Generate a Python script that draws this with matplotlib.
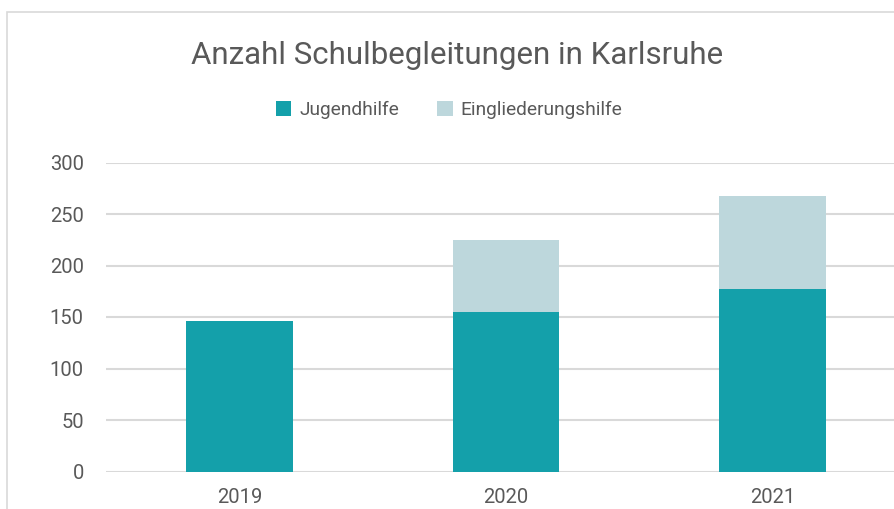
import matplotlib.pyplot as plt
from matplotlib.patches import Rectangle

years = ['2019', '2020', '2021']
jugendhilfe = [146, 155, 177]
eingliederungshilfe = [0, 70, 90]

teal = '#14a0aa'
light = '#bdd7dc'
grey_text = '#595959'
grid = '#d9d9d9'

plt.rcParams['font.family'] = ['Roboto', 'DejaVu Sans']

W, H = 894, 509
fig = plt.figure(figsize=(W / 100, H / 100), dpi=100)

# chart frame (cropped at the right and bottom in the reference)
fig.patches.append(Rectangle((7 / W, -0.1), 1.2, (H - 12) / H + 0.1,
                             transform=fig.transFigure, fill=False,
                             edgecolor=grid, linewidth=1.2))

# axes extend past the right edge, like the cropped original
ax = fig.add_axes([106 / W, (H - 471.5) / H, 800 / W, 309 / H])
x = range(len(years))
ax.bar(x, jugendhilfe, width=0.4, color=teal, label='Jugendhilfe', zorder=3)
ax.bar(x, eingliederungshilfe, width=0.4, bottom=jugendhilfe, color=light,
       label='Eingliederungshilfe', zorder=3)

ax.set_xlim(-0.5, 2.5)
ax.set_ylim(0, 300)
ax.set_yticks(range(0, 301, 50))
ax.set_xticks(list(x))
ax.set_xticklabels(years)
ax.grid(axis='y', color=grid, linewidth=1.5, zorder=0)
ax.tick_params(axis='both', length=0, labelsize=14.5, labelcolor=grey_text)
ax.tick_params(axis='y', pad=16)
ax.tick_params(axis='x', pad=12)
for s in ax.spines.values():
    s.set_visible(False)

fig.text(457 / W, 1 - 56 / H, 'Anzahl Schulbegleitungen in Karlsruhe',
         ha='center', va='center', fontsize=22.5, color=grey_text)
fig.legend(loc='center', bbox_to_anchor=(449 / W, 1 - 110 / H), ncol=2,
           frameon=False, fontsize=13.8, labelcolor=grey_text,
           handlelength=0.8, handleheight=0.8, handletextpad=0.4,
           columnspacing=2.0)

fig.savefig('out.png', dpi=100)
